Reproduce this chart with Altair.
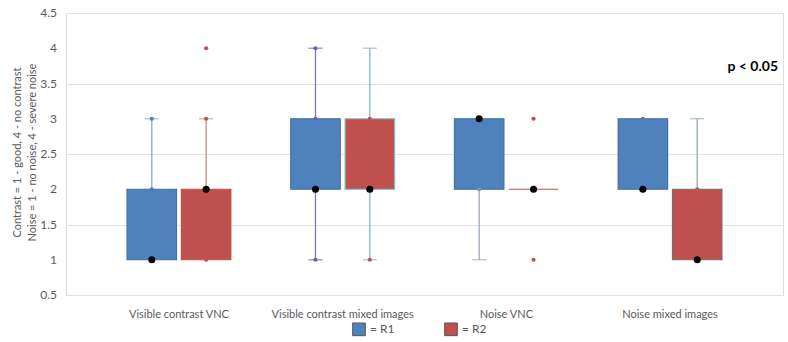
import altair as alt
import pandas as pd

FONT = "Lato"

categories = ["Visible contrast VNC", "Visible contrast mixed images", "Noise VNC", "Noise mixed images"]
raters = ["R1", "R2"]

# per group, order: (cat1,R1),(cat1,R2),(cat2,R1),(cat2,R2),...
group_cat = [categories[i // 2] for i in range(8)]
group_rater = [raters[i % 2] for i in range(8)]
whisk_lo = [1, 1, 1, 1, 1, 2, 2, 1]
q1 = [1, 1, 2, 2, 2, 2, 2, 1]
median = [1, 2, 2, 2, 3, 2, 2, 1]
q3 = [2, 2, 3, 3, 3, 2, 3, 2]
whisk_hi = [3, 3, 4, 4, 3, 2, 3, 3]
points = [[2, 3], [1, 3, 4], [1, 3, 4], [1, 3], [2], [1, 3], [3], [2]]
y_ticks = [0.5, 1.0, 1.5, 2.0, 2.5, 3.0, 3.5, 4.0, 4.5]
y_tick_labels = ["0.5", "1", "1.5", "2", "2.5", "3", "3.5", "4", "4.5"]

# styles
whisker_color = ["#8fa8cc", "#d4898a", "#7f77b3", "#7fbcc2", "#98a9bd", "#c0504d", "#9aaab8", "#92aab0"]
box_stroke = ["#41719c", "#c0504d", "#41719c", "#7fbcc2", "#41719c", "#c0504d", "#41719c", "#6f6f6f"]
dot_color = ["#4f81bd", "#c0504d", "#7060a8", "#b05a6a", "#7c93b8", "#c0504d", "#6a6aa8", "#a86060"]

boxes = pd.DataFrame({
    "cat": group_cat, "rater": group_rater, "lo": whisk_lo, "q1": q1,
    "med": median, "q3": q3, "hi": whisk_hi,
    "wcol": whisker_color, "bstroke": box_stroke,
})

cap_rows = []
for i in range(8):
    if whisk_lo[i] < q1[i]:
        cap_rows.append({"cat": group_cat[i], "rater": group_rater[i], "v": whisk_lo[i], "wcol": whisker_color[i]})
    if whisk_hi[i] > q3[i]:
        cap_rows.append({"cat": group_cat[i], "rater": group_rater[i], "v": whisk_hi[i], "wcol": whisker_color[i]})
caps = pd.DataFrame(cap_rows)

pt_rows = []
for i in range(8):
    for v in points[i]:
        pt_rows.append({"cat": group_cat[i], "rater": group_rater[i], "v": v, "dcol": dot_color[i]})
pts = pd.DataFrame(pt_rows)

ticks_df = pd.DataFrame({"v": y_ticks, "lab": y_tick_labels})

x_enc = alt.X("cat:N", sort=categories, title=None,
              scale=alt.Scale(paddingInner=0.366, paddingOuter=0.373),
              axis=alt.Axis(labelAngle=0, domain=False, ticks=False, labelPadding=13,
                            labelFont=FONT, labelFontSize=11, labelColor="#595959"))
xo_enc = alt.XOffset("rater:N", sort=raters, scale=alt.Scale(paddingInner=0.09, paddingOuter=0))
y_scale = alt.Scale(domain=[0.5, 4.5], nice=False, zero=False)

y_axis = alt.Axis(values=y_ticks, labels=False,
                  domain=False, ticks=False,
                  gridColor="#e3e3e3", titleFont=FONT, titleFontSize=11,
                  titleFontWeight="normal", titleColor="#595959",
                  titleX=-55, titleY=139, titleAngle=-90, titleBaseline="top",
                  titleLineHeight=15)
y_title = ["Contrast = 1 - good, 4 - no contrast", "Noise = 1 - no noise, 4 - severe noise"]

whiskers = alt.Chart(boxes).mark_rule(strokeWidth=1.3).encode(
    x=x_enc, xOffset=xo_enc,
    y=alt.Y("lo:Q", scale=y_scale, title=y_title, axis=y_axis),
    y2="hi:Q",
    color=alt.Color("wcol:N", scale=None),
)

cap_layer = alt.Chart(caps).mark_tick(size=14, thickness=1.3).encode(
    x=x_enc, xOffset=xo_enc, y=alt.Y("v:Q", scale=y_scale, title=y_title, axis=y_axis),
    color=alt.Color("wcol:N", scale=None),
)

box_layer = alt.Chart(boxes).mark_bar(strokeWidth=1.2).encode(
    x=x_enc, xOffset=xo_enc,
    y=alt.Y("q1:Q", scale=y_scale, title=y_title, axis=y_axis), y2="q3:Q",
    fill=alt.Fill("rater:N", sort=raters,
                  scale=alt.Scale(domain=raters, range=["#4f81bd", "#c0504d"]),
                  legend=alt.Legend(title=None, orient="none", legendX=286, legendY=309,
                                    direction="horizontal", symbolType="square", symbolSize=160,
                                    symbolStrokeColor="#555555", symbolStrokeWidth=1,
                                    labelExpr="'= ' + datum.label", labelFont=FONT,
                                    labelFontSize=12, labelColor="#595959",
                                    columnPadding=47, labelOffset=4)),
    stroke=alt.Stroke("bstroke:N", scale=None),
)

small_dots = alt.Chart(pts).mark_circle(size=18, opacity=1).encode(
    x=x_enc, xOffset=xo_enc, y=alt.Y("v:Q", scale=y_scale, title=y_title, axis=y_axis),
    color=alt.Color("dcol:N", scale=None),
)

med_dots = alt.Chart(boxes).mark_circle(size=50, opacity=1, color="black").encode(
    x=x_enc, xOffset=xo_enc, y=alt.Y("med:Q", scale=y_scale, title=y_title, axis=y_axis),
)

tick_labels = alt.Chart(ticks_df).mark_text(
    align="right", baseline="middle", font=FONT, fontSize=12, color="#595959"
).encode(x=alt.value(-9), y=alt.Y("v:Q", scale=y_scale, title=y_title, axis=y_axis), text="lab:N")

ptext = alt.Chart(pd.DataFrame({"t": ["p < 0.05"]})).mark_text(
    align="right", baseline="middle", font=FONT, fontSize=14, fontWeight="bold", color="black"
).encode(x=alt.value(712), y=alt.datum(3.73), text="t:N")

chart = alt.layer(whiskers, cap_layer, box_layer, small_dots, med_dots, tick_labels, ptext).properties(
    width=717, height=282,
    autosize=alt.AutoSizeParams(type="none"),
    padding={"left": 66, "top": 13, "right": 5, "bottom": 47},
).configure_view(stroke="#ececec").configure(background="white")

chart.save("out.html", embed_options={"renderer": "svg", "actions": False})
